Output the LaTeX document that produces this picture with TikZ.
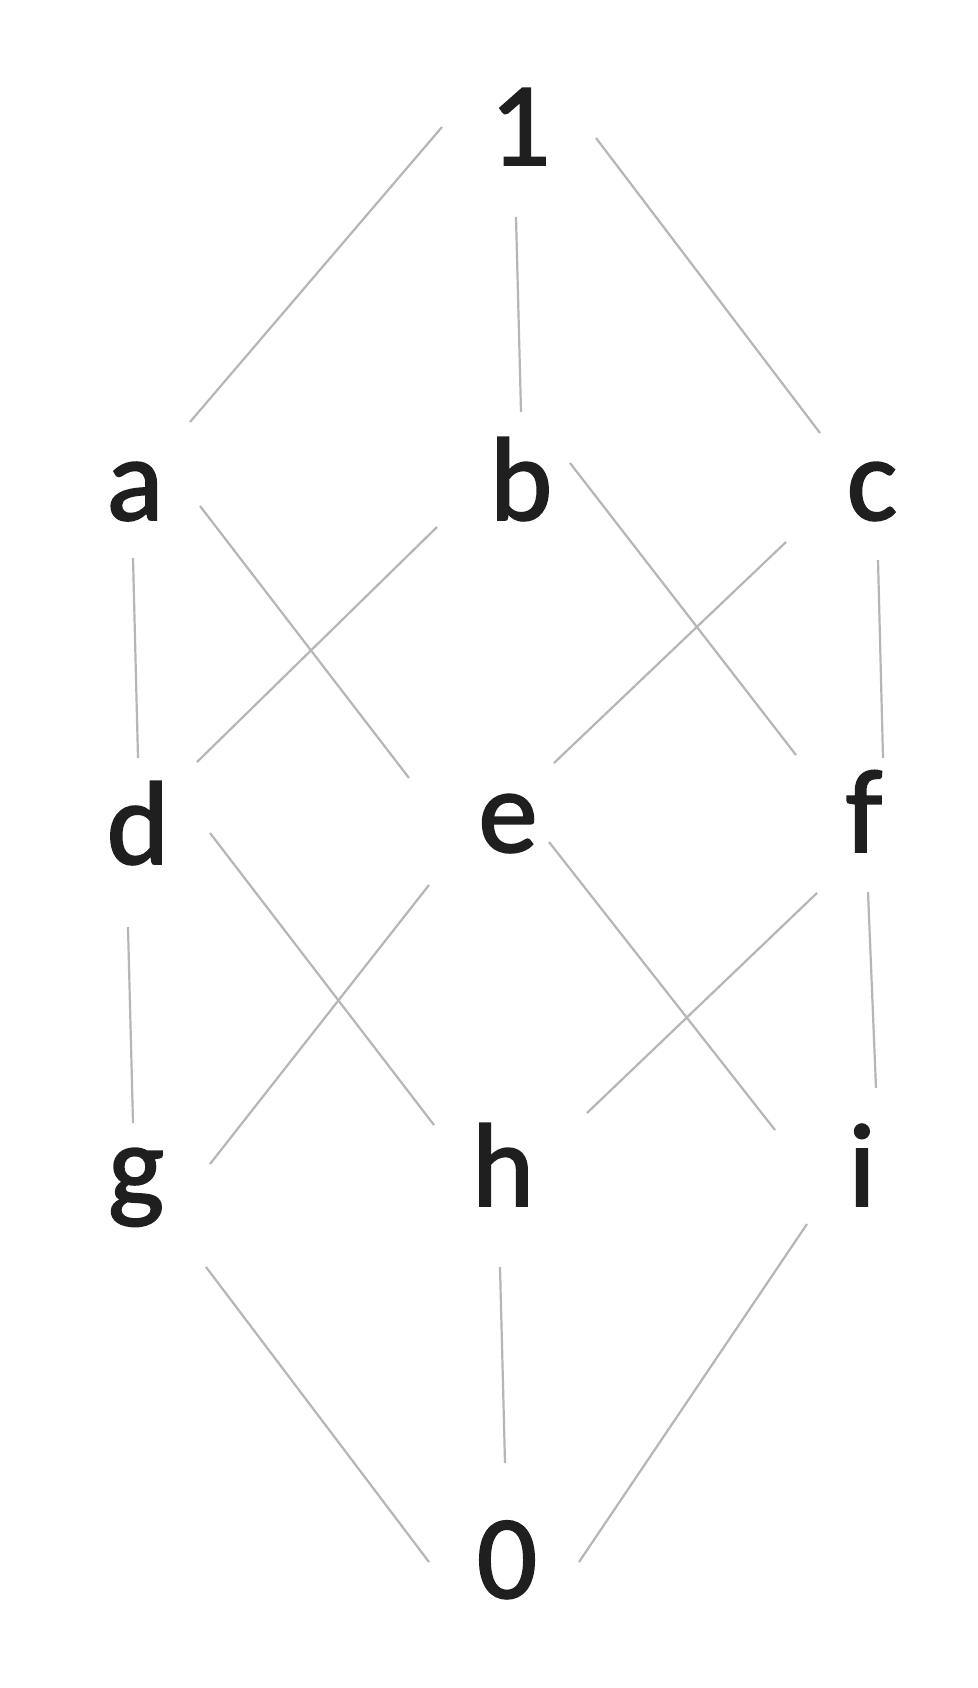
\documentclass[tikz,border=0pt]{standalone}
\usepackage{fontspec}
\setmainfont{Carlito}[FakeBold=1.6]
\definecolor{edgegray}{RGB}{182,182,182}
\begin{document}
\begin{tikzpicture}[x=1pt,y=-1pt,
  lbl/.style={anchor=base,inner sep=0pt,font=\fontsize{119}{119}\selectfont,text=black!88},
  edge/.style={draw=edgegray,line width=2.2pt}]
\fill[white] (0,0) rectangle (977,1688);
\useasboundingbox (0,0) rectangle (977,1688);
% nodes
\node[lbl] (n1) at (520,165) {1};
\node[lbl] (a) at (135,520) {a};
\node[lbl] (b) at (521,520) {b};
\node[lbl] (c) at (872,520) {c};
\node[lbl] (d) at (138,864) {d};
\node[lbl] (e) at (508,852) {e};
\node[lbl] (f) at (864,852) {f};
\node[lbl] (g) at (136,1206) {g};
\node[lbl] (h) at (503,1206) {h};
\node[lbl] (i) at (862,1206) {i};
\node[lbl] (n0) at (507,1598) {0};
% edges
\draw[edge] ([shift={(-78,-38)}]n1.base) -- ([shift={(55,-98)}]a.base);
\draw[edge] ([shift={(-4,52)}]n1.base) -- ([shift={(0,-108)}]b.base);
\draw[edge] ([shift={(76,-27)}]n1.base) -- ([shift={(-52,-87)}]c.base);
\draw[edge] ([shift={(-2,38)}]a.base) -- ([shift={(0,-106)}]d.base);
\draw[edge] ([shift={(65,-14)}]a.base) -- ([shift={(-99,-74)}]e.base);
\draw[edge] ([shift={(-84,7)}]b.base) -- ([shift={(59,-102)}]d.base);
\draw[edge] ([shift={(49,-57)}]b.base) -- ([shift={(-68,-97)}]f.base);
\draw[edge] ([shift={(-86,22)}]c.base) -- ([shift={(46,-89)}]e.base);
\draw[edge] ([shift={(6,40)}]c.base) -- ([shift={(19,-94)}]f.base);
\draw[edge] ([shift={(-10,63)}]d.base) -- ([shift={(-3,-83)}]g.base);
\draw[edge] ([shift={(72,-31)}]d.base) -- ([shift={(-69,-81)}]h.base);
\draw[edge] ([shift={(-79,33)}]e.base) -- ([shift={(74,-42)}]g.base);
\draw[edge] ([shift={(41,-10)}]e.base) -- ([shift={(-87,-76)}]i.base);
\draw[edge] ([shift={(-47,41)}]f.base) -- ([shift={(84,-93)}]h.base);
\draw[edge] ([shift={(4,40)}]f.base) -- ([shift={(14,-118)}]i.base);
\draw[edge] ([shift={(70,61)}]g.base) -- ([shift={(-78,-36)}]n0.base);
\draw[edge] ([shift={(-3,61)}]h.base) -- ([shift={(-2,-135)}]n0.base);
\draw[edge] ([shift={(-55,18)}]i.base) -- ([shift={(72,-36)}]n0.base);
\end{tikzpicture}
\end{document}
